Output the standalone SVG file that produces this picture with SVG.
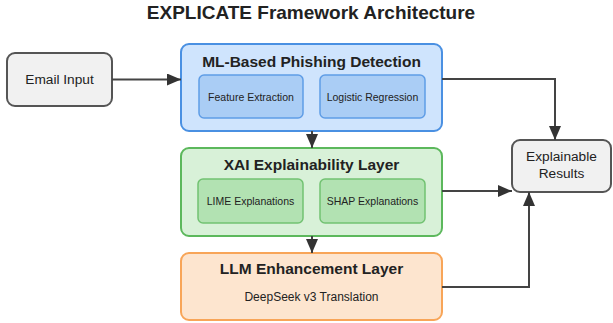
<svg xmlns="http://www.w3.org/2000/svg" width="613" height="323" viewBox="0 0 613 323">
<defs>
<marker id="arr" viewBox="0 0 14 12" refX="14" refY="6" markerWidth="14" markerHeight="12" orient="auto" markerUnits="userSpaceOnUse">
<path d="M0,0 L14,6 L0,12 z" fill="#333"/>
</marker>
<style>
text{font-family:"Liberation Sans",Arial,sans-serif;fill:#222;text-anchor:middle}
.title{font-size:19px;font-weight:bold}
.h{font-size:15.5px;font-weight:bold}
.n{font-size:13.7px}
.s{font-size:10.5px}
.d{font-size:12px}
.gray{fill:#f1f1f1;stroke:#555;stroke-width:2}
.blue{fill:#cfe4fd;stroke:#4a90e2;stroke-width:2}
.blueIn{fill:#aacdf5;stroke:#5f9de6;stroke-width:1.5}
.green{fill:#d8f1d8;stroke:#5cb85c;stroke-width:2}
.greenIn{fill:#b2e2b2;stroke:#72c272;stroke-width:1.5}
.orange{fill:#fde5cf;stroke:#f8a558;stroke-width:2}
.c{fill:none;stroke:#444;stroke-width:2;marker-end:url(#arr)}
</style>
</defs>
<rect width="613" height="323" fill="#fff"/>
<text class="title" x="311" y="19">EXPLICATE Framework Architecture</text>
<g id="email">
<rect class="gray" x="7" y="53" width="105" height="53" rx="8"/>
<text class="n" x="59.5" y="84">Email Input</text>
</g>
<g id="ml">
<rect class="blue" x="181" y="44" width="261" height="87" rx="8"/>
<text class="h" x="311.5" y="67">ML-Based Phishing Detection</text>
<g id="feature">
<rect class="blueIn" x="199" y="75" width="104" height="43" rx="5"/>
<text class="s" x="251" y="101">Feature Extraction</text>
</g>
<g id="logistic">
<rect class="blueIn" x="320" y="75" width="105" height="43" rx="5"/>
<text class="s" x="372.5" y="101">Logistic Regression</text>
</g>
</g>
<g id="xai">
<rect class="green" x="181" y="148" width="261" height="88" rx="8"/>
<text class="h" x="311.5" y="170">XAI Explainability Layer</text>
<g id="lime">
<rect class="greenIn" x="198" y="179" width="105" height="44" rx="5"/>
<text class="s" x="250.5" y="205">LIME Explanations</text>
</g>
<g id="shap">
<rect class="greenIn" x="320" y="179" width="105" height="44" rx="5"/>
<text class="s" x="372.5" y="205">SHAP Explanations</text>
</g>
</g>
<g id="llm">
<rect class="orange" x="181" y="253" width="261" height="67" rx="8"/>
<text class="h" x="311.5" y="274">LLM Enhancement Layer</text>
<text class="d" x="311.5" y="301">DeepSeek v3 Translation</text>
</g>
<g id="results">
<rect class="gray" x="512" y="140" width="99" height="52" rx="8"/>
<text class="n" x="561.5" y="161">Explainable</text>
<text class="n" x="561.5" y="178">Results</text>
</g>
<g id="connectors">
<path class="c" d="M112,79.5 H181"/>
<path class="c" d="M442,79 H555 V140"/>
<path class="c" d="M312,131 V148"/>
<path class="c" d="M312,236 V253"/>
<path class="c" d="M442,191 H512"/>
<path class="c" d="M442,287 H529 V192"/>
</g>
</svg>
